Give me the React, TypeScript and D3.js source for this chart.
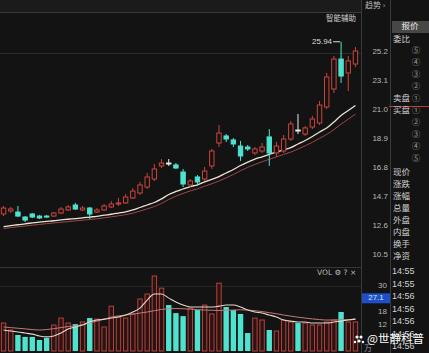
import React from "react";
import * as d3 from "d3";

const W = 429;
const H = 353;

// candle data (price)
const opens = [13.47,13.69,13.61,13.25,13.47,13.32,13.32,13.32,13.54,13.76, 14.12,13.76,13.90,13.61,13.76,13.98,14.19,14.27,14.63,14.99, 15.42,16.00,16.95,17.16,17.02,16.51,15.57,16.15,16.00,16.95, 18.61,19.12,18.83,18.39,18.32,17.89,18.03,19.05,17.89,18.03, 18.90,19.55,19.26,19.77,20.06,21.22,22.52,24.69,23.68,24.33];
const closes = [13.90,13.83,13.32,13.03,13.25,13.18,13.25,13.54,13.83,13.98, 13.83,13.90,13.47,13.76,14.05,14.19,14.27,14.70,15.13,15.57, 16.15,16.73,17.16,17.13,16.80,15.64,15.86,15.79,16.58,18.03, 19.33,18.90,18.54,17.67,18.18,18.18,18.32,17.89,18.39,18.90, 19.99,19.52,19.70,20.35,21.36,23.39,24.69,23.46,24.55,25.27];
const highs = [14.05,13.98,14.05,13.32,13.54,13.40,13.40,13.61,13.98,14.12, 14.27,14.05,13.98,13.90,14.19,14.41,14.63,14.92,15.35,15.79, 16.44,17.09,17.45,17.45,17.16,16.73,16.00,16.29,16.87,18.18, 19.91,19.26,18.97,18.76,18.47,18.32,18.61,19.62,18.68,19.19, 20.20,20.71,19.84,20.57,21.65,23.68,24.91,25.94,24.91,25.56];
const lows = [13.32,13.54,13.25,12.89,13.18,13.11,13.18,13.25,13.47,13.69, 13.76,13.69,13.11,13.54,13.69,13.90,14.05,14.19,14.56,14.85, 15.28,15.86,16.80,16.95,16.73,15.42,15.42,15.50,15.86,16.73, 18.32,18.68,18.32,17.31,18.03,17.74,17.89,16.95,17.60,17.89, 18.76,19.26,19.12,19.62,19.91,21.07,22.23,22.96,22.38,24.11];
const maLine = [12.56,12.63,12.69,12.76,12.82,12.88,12.93,12.98,13.04,13.09,13.14,13.19,13.25,13.30,13.38,13.45,13.54,13.63,13.76,13.94,14.12,14.30,14.56,14.88,15.10,15.28,15.46,15.58,15.79,15.97,16.18,16.44,16.69,16.98,17.23,17.44,17.61,17.79,17.96,18.12,18.28,18.54,18.79,19.08,19.41,19.70,20.13,20.60,20.96,21.33];
const maLine2 = [12.42,12.48,12.54,12.60,12.66,12.71,12.77,12.82,12.87,12.92,12.97,13.02,13.07,13.12,13.19,13.26,13.34,13.42,13.53,13.68,13.84,14.01,14.24,14.52,14.76,14.96,15.14,15.29,15.48,15.66,15.86,16.09,16.33,16.60,16.85,17.06,17.25,17.43,17.61,17.78,17.95,18.17,18.40,18.66,18.95,19.23,19.58,19.98,20.34,20.70];

// volume data
const volumes = [12.9,9.7,7.4,6.5,6.5,5.1,6.0,12.0,15.2,12.9, 12.4,13.4,15.2,14.7,11.1,20.7,15.7,15.2,17.1,24.0, 26.3,34.6,29.0,21.2,17.5,16.1,19.8,18.9,21.2,17.1, 31.3,20.3,18.9,17.1,8.3,15.2,14.3,9.7,9.2,14.3, 13.4,12.9,12.9,12.0,12.0,13.4,14.3,18.0,13.4,13.4];
const volMa1 = [9.7,9.2,8.8,8.3,7.8,6.9,6.5,6.9,8.3,10.1, 11.1,12.0,13.4,14.3,14.7,15.2,15.7,16.6,18.0,19.8, 23.5,26.3,26.3,24.4,22.6,21.2,20.3,20.3,20.3,20.3, 20.7,21.2,21.2,20.3,18.9,18.0,17.5,16.6,15.7,14.3, 13.8,13.4,13.4,12.9,12.9,12.9,13.4,13.8,14.3,14.7];
const volMa2 = [11.1,10.8,10.5,10.2,9.9,9.7,9.9,10.3,10.8,11.3, 11.5,12.2,13.0,13.8,14.6,15.7,16.2,16.6,17.0,17.5, 18.0,18.6,19.2,19.5,19.6,19.5,19.3,19.1,18.9,18.8, 18.7,18.8,18.9,19.0,18.9,18.6,18.2,17.7,17.2,16.6, 16.1,15.6,15.2,14.8,14.5,14.3,14.3,14.4,14.5,14.7];

const priceTicks = [25.2, 23.1, 21.0, 18.9, 16.8, 14.7, 12.6, 10.5];
const volTicks = [30, 18, 12];
const volMarker = 27.1;

const askLevels = ["⑤", "④", "③", "②", "①"];
const bidLevels = ["①", "②", "③", "④", "⑤"];
const quoteLabels = ["现价", "涨跌", "涨幅", "总量", "外盘", "内盘", "换手", "净资"];
const tradeTimes = ["14:55", "14:55", "14:56", "14:56", "14:56", "14:56", "14:56"];

const BG = "#131313";
const RED = "#cc453d";
const CYAN = "#4fe2cf";
const CJK = "'Noto Sans CJK SC', sans-serif";
const NUM = "'Liberation Sans', Arial, sans-serif";

export default function App() {
  const n = closes.length;
  const idx = d3.range(n);
  const x = d3.scaleBand<number>().domain(idx).range([0, 359]).paddingInner(0.25).paddingOuter(0.12);
  const bw = x.bandwidth();
  const cx = (i: number) => (x(i) as number) + bw / 2;
  const y = d3.scaleLinear().domain([10.5, 25.2]).range([255, 52]);
  const yv = d3.scaleLinear().domain([0, 30]).range([351, 286]);

  const priceLine = (arr: number[]) =>
    d3.line<number>().x((_, i) => cx(i)).y((d) => y(d)).curve(d3.curveMonotoneX)(arr) as string;
  const volLine = (arr: number[]) =>
    d3.line<number>().x((_, i) => cx(i)).y((d) => yv(d)).curve(d3.curveMonotoneX)(arr) as string;

  const maxI = d3.maxIndex(highs);
  const maxX = cx(maxI);
  const maxY = y(highs[maxI]);

  return (
    <svg width={W} height={H} style={{ position: "fixed", left: 0, top: 0, background: BG }}>
      <rect x={0} y={0} width={W} height={H} fill={BG} />
      {/* top band */}
      <rect x={0} y={0} width={361} height={12} fill="#1b1b1b" />
      <line x1={0} x2={361} y1={12.5} y2={12.5} stroke="#3a3a3a" />
      {/* grid */}
      <line x1={0} x2={361} y1={53.5} y2={53.5} stroke="#2a2a2a" />
      <line x1={0} x2={361} y1={267.5} y2={267.5} stroke="#363636" />
      <line x1={0} x2={361} y1={286.5} y2={286.5} stroke="#262626" />
      {/* separators */}
      <line x1={361.5} x2={361.5} y1={0} y2={H} stroke="#3a3a3a" />
      <line x1={390.5} x2={390.5} y1={0} y2={H} stroke="#3a3a3a" />

      {/* moving averages */}
      <path d={priceLine(maLine2)} fill="none" stroke="#9a4848" strokeWidth={1} />
      <path d={priceLine(maLine)} fill="none" stroke="#ece3d2" strokeWidth={1.3} />

      {/* candles */}
      {idx.map((i) => {
        const o = opens[i], c = closes[i];
        const doji = Math.abs(o - c) < 0.05;
        const up = c >= o;
        const col = doji ? "#e6ecea" : up ? RED : CYAN;
        const top = y(Math.max(o, c));
        const bot = y(Math.min(o, c));
        const h = Math.max(1, bot - top);
        return (
          <g key={i}>
            <line x1={cx(i)} x2={cx(i)} y1={y(highs[i])} y2={y(lows[i])} stroke={col} strokeWidth={1} />
            <rect
              x={(x(i) as number) + 0.5}
              y={top}
              width={bw - 1}
              height={h}
              fill={up && !doji ? BG : col}
              stroke={col}
              strokeWidth={1}
            />
          </g>
        );
      })}

      {/* max annotation */}
      <line x1={maxX - 8} x2={maxX - 1} y1={maxY} y2={maxY} stroke="#dddddd" />
      <text x={maxX - 9} y={maxY} textAnchor="end" dominantBaseline="middle" fill="#dddddd" fontSize={8} fontFamily={NUM}>
        {highs[maxI].toFixed(2)}
      </text>
      <text x={356} y={19} textAnchor="end" dominantBaseline="middle" fill="#cfcfcf" fontSize={7.5} fontFamily={CJK}>
        智能辅助
      </text>

      {/* price axis */}
      <text x={365} y={6} dominantBaseline="middle" fill="#bdbdbd" fontSize={8} fontFamily={CJK}>趋势 ›</text>
      {priceTicks.map((t) => (
        <text key={t} x={388} y={y(t)} textAnchor="end" dominantBaseline="middle" fill="#b8b8b8" fontSize={8} fontFamily={NUM}>
          {t.toFixed(1)}
        </text>
      ))}

      {/* volume bars */}
      {idx.map((i) => {
        const up = closes[i] >= opens[i] && Math.abs(opens[i] - closes[i]) >= 0.05;
        const top = yv(volumes[i]);
        return up ? (
          <rect key={i} x={(x(i) as number) + 0.5} y={top} width={bw - 1} height={yv(0) - top} fill="#2a1313" stroke="#b9423b" strokeWidth={1} />
        ) : (
          <rect key={i} x={x(i) as number} y={top} width={bw} height={yv(0) - top} fill={CYAN} />
        );
      })}
      <path d={volLine(volMa2)} fill="none" stroke="#c07a7a" strokeWidth={1} />
      <path d={volLine(volMa1)} fill="none" stroke="#e8d6cc" strokeWidth={1.1} />
      <text x={317} y={273} dominantBaseline="middle" fill="#bdbdbd" fontSize={7.5} fontFamily="'DejaVu Sans', sans-serif">
        VOL ⚙ ? ×
      </text>

      {/* volume axis */}
      {volTicks.map((t) => (
        <text key={t} x={387} y={yv(t)} textAnchor="end" dominantBaseline="middle" fill="#b8b8b8" fontSize={8} fontFamily={NUM}>
          {t}
        </text>
      ))}
      <rect x={362} y={yv(volMarker) + 1} width={28} height={10} fill="#1e4fc8" />
      <text x={376} y={yv(volMarker) + 6} textAnchor="middle" dominantBaseline="middle" fill="#d6e2ff" fontSize={8} fontFamily={NUM}>
        {volMarker.toFixed(1)}
      </text>
      <text x={364} y={349} dominantBaseline="middle" fill="#999" fontSize={8} fontFamily={CJK}>万</text>

      {/* right quote panel */}
      <rect x={392} y={21} width={37} height={12} fill="#474747" />
      <text x={410} y={27} textAnchor="middle" dominantBaseline="middle" fill="#e6e6e6" fontSize={8.5} fontFamily={CJK}>报价</text>
      <text x={393} y={40} dominantBaseline="middle" fill="#cfcfcf" fontSize={8.5} fontFamily={CJK}>委比</text>
      {askLevels.map((s, k) => (
        <g key={"a" + k}>
          {k === 4 && (
            <text x={393} y={51 + k * 12} dominantBaseline="middle" fill="#cfcfcf" fontSize={8.5} fontFamily={CJK}>卖盘</text>
          )}
          <text x={416} y={51 + k * 12} textAnchor="middle" dominantBaseline="middle" fill="#9c9c9c" fontSize={8.5} fontFamily={CJK}>{s}</text>
        </g>
      ))}
      <line x1={389} x2={429} y1={106.5} y2={106.5} stroke="#c0353a" strokeWidth={1} />
      {bidLevels.map((s, k) => (
        <g key={"b" + k}>
          {k === 0 && (
            <text x={393} y={111 + k * 12} dominantBaseline="middle" fill="#cfcfcf" fontSize={8.5} fontFamily={CJK}>买盘</text>
          )}
          <text x={416} y={111 + k * 12} textAnchor="middle" dominantBaseline="middle" fill="#9c9c9c" fontSize={8.5} fontFamily={CJK}>{s}</text>
        </g>
      ))}
      {quoteLabels.map((s, k) => (
        <text key={s} x={393} y={173 + k * 12} dominantBaseline="middle" fill="#cfcfcf" fontSize={8.5} fontFamily={CJK}>{s}</text>
      ))}
      {tradeTimes.map((s, k) => (
        <text key={"t" + k} x={392} y={272 + k * 12.5} dominantBaseline="middle" fill="#d0d0d0" fontSize={9} fontFamily={NUM}>{s}</text>
      ))}

      {/* watermark */}
      <g fill="#ffffff">
        <circle cx={357} cy={337} r={1.6} />
        <circle cx={361} cy={337} r={1.6} />
        <circle cx={359} cy={341} r={1.6} />
        <circle cx={355} cy={342} r={1.2} />
        <circle cx={363} cy={342} r={1.2} />
      </g>
      <text x={367} y={340} dominantBaseline="middle" fill="#ffffff" fontSize={11.5} fontFamily={CJK}>@世静科普</text>
    </svg>
  );
}
